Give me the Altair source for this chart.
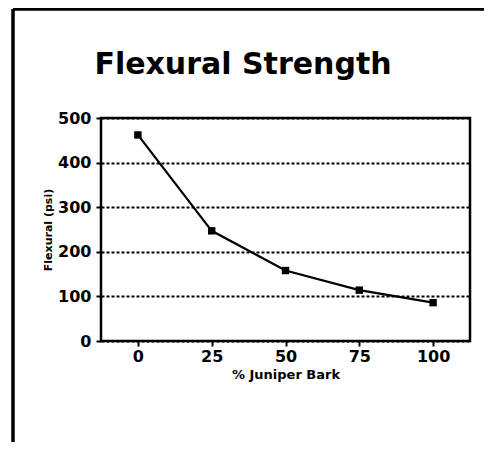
import altair as alt
import pandas as pd

# Data
bark_pct = ["0", "25", "50", "75", "100"]
flexural_psi = [462, 247, 158, 114, 86]
y_ticks = [0, 100, 200, 300, 400, 500]
chart_title = "Flexural Strength"

df = pd.DataFrame({"bark": bark_pct, "psi": flexural_psi})

FONT = "DejaVu Sans"

x_enc = alt.X(
    "bark:O",
    sort=bark_pct,
    scale=alt.Scale(type="point", padding=0.5),
    axis=alt.Axis(
        title="% Juniper Bark",
        labelAngle=0,
        labelFont=FONT,
        labelFontWeight="bold",
        labelFontSize=16,
        labelColor="black",
        labelPadding=2,
        titleFont=FONT,
        titleFontWeight="bold",
        titleFontSize=13,
        titleColor="black",
        titlePadding=4,
        tickColor="black",
        tickSize=5,
        tickWidth=2,
        domain=False,
        grid=False,
    ),
)
y_enc = alt.Y(
    "psi:Q",
    scale=alt.Scale(domain=[0, 500], nice=False),
    axis=alt.Axis(
        title="Flexural (psi)",
        values=y_ticks,
        labelFont=FONT,
        labelFontWeight="bold",
        labelFontSize=16,
        labelColor="black",
        labelPadding=5,
        titleFont=FONT,
        titleFontWeight="bold",
        titleFontSize=11,
        titleColor="black",
        titlePadding=4,
        tickColor="black",
        tickSize=5,
        tickWidth=2,
        domain=False,
        grid=True,
        gridColor="black",
        gridDash=[3, 2],
        gridWidth=1.8,
    ),
)

line = alt.Chart(df).mark_line(
    color="black", strokeWidth=2.2,
    point=alt.OverlayMarkDef(shape="square", size=55, filled=True, color="black"),
).encode(x=x_enc, y=y_enc)

frame_left = alt.Chart(df).mark_rule(color="black", strokeWidth=2.5).encode(
    x=alt.value(-88), y=alt.value(-109), y2=alt.value(400)
)
frame_top = alt.Chart(df).mark_rule(color="black", strokeWidth=2.5).encode(
    x=alt.value(-88), x2=alt.value(400), y=alt.value(-109)
)

title_df = pd.DataFrame({"t": [chart_title]})
title_mark = alt.Chart(title_df).mark_text(
    font=FONT, fontSize=30, fontWeight="bold", color="black",
    align="center", baseline="alphabetic",
).encode(text="t:N", x=alt.value(142), y=alt.value(-44))

chart = alt.layer(line, frame_left, frame_top, title_mark).properties(
    width=369,
    height=223,
    autosize=alt.AutoSizeParams(type="none"),
    padding={"left": 93, "top": 110, "right": 14, "bottom": 101},
).configure_view(stroke="black", strokeWidth=2.5)

chart.save("out.html", embed_options={"renderer": "svg", "actions": False})
